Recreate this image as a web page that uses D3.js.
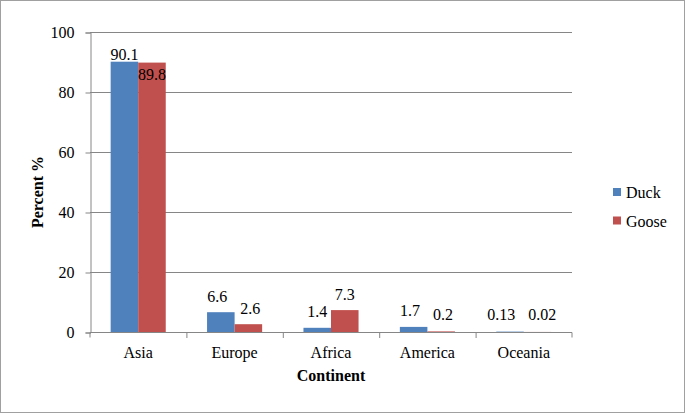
<!DOCTYPE html>
<html><head><meta charset="utf-8">
<script src="https://cdn.jsdelivr.net/npm/d3@7"></script>
<style>body{margin:0;background:#fff}svg{display:block}</style>
</head><body><svg id="c" width="685" height="413"></svg>
<script>
const categories = ["Asia","Europe","Africa","America","Oceania"];
const seriesNames = ["Duck","Goose"];
const duck = [90.1, 6.6, 1.4, 1.7, 0.13];
const goose = [89.8, 2.6, 7.3, 0.2, 0.02];
const duckLabels = ["90.1","6.6","1.4","1.7","0.13"];
const gooseLabels = ["89.8","2.6","7.3","0.2","0.02"];
const yTicks = [0,20,40,60,80,100];
const colors = ["#4F81BD","#C0504D"];
const FONT = "'Liberation Serif'";

const svg = d3.select("#c");
svg.append("rect").attr("x",0.5).attr("y",0.5).attr("width",684).attr("height",412)
  .attr("fill","#fff").attr("stroke","#A0A0A0");

const x0 = d3.scaleBand().domain(categories).range([90,572]).paddingInner(0).paddingOuter(0);
const inner = x0.bandwidth()/(2+1.5);
const x1 = d3.scaleBand().domain(seriesNames).range([inner*0.75, x0.bandwidth()-inner*0.75]).padding(0);
const y = d3.scaleLinear().domain([0,100]).range([332,32]);

// gridlines
svg.append("g").selectAll("line").data(yTicks.filter(d=>d>0)).join("line")
  .attr("x1",90).attr("x2",572).attr("y1",d=>y(d)+0.5).attr("y2",d=>y(d)+0.5)
  .attr("stroke","#868686").attr("stroke-width",1);

// y axis
const yAxis = d3.axisLeft(y).tickValues(yTicks).tickSize(5).tickPadding(11).tickFormat(d3.format("d"));
const gy = svg.append("g").attr("transform","translate(90.5,0.5)").call(yAxis);
gy.attr("font-family",null).attr("font-size",null);
gy.select(".domain").attr("stroke","#868686");
gy.selectAll(".tick line").attr("stroke","#868686");
gy.selectAll("text").style("font-size","16px").style("font-family",FONT).attr("fill","#000");

const data = categories.map((c,i)=>({c, vals:[
  {s:"Duck", v:duck[i], l:duckLabels[i]},
  {s:"Goose", v:goose[i], l:gooseLabels[i]}]}));

const g = svg.append("g").selectAll("g").data(data).join("g")
  .attr("transform",d=>`translate(${x0(d.c)},0)`);
g.selectAll("rect").data(d=>d.vals).join("rect")
  .attr("x",d=>x1(d.s)).attr("width",x1.bandwidth())
  .attr("y",d=>y(d.v)).attr("height",d=>y(0)-y(d.v))
  .attr("fill",(d,i)=>colors[i]);
g.selectAll("text").data(d=>d.vals).join("text")
  .attr("x",d=>x1(d.s)+x1.bandwidth()/2)
  .attr("y",(d,i)=> d.v>85 ? (i===1 ? y(d.v)+17.5 : y(d.v)-2) : Math.min(y(d.v)-10.5, y(0)-12))
  .attr("text-anchor","middle").style("font-size","16px").style("font-family",FONT)
  .text(d=>d.l);
// push apart overlapping labels within each group
g.each(function(){
  const t = d3.select(this).selectAll("text").nodes();
  if (t.length<2) return;
  const a = t[0].getBBox(), b = t[1].getBBox();
  const sameRow = Math.abs(a.y-b.y) < a.height*0.8;
  const gap = b.x - (a.x+a.width);
  if (sameRow && gap < 13) {
    const need = 13 - gap;
    d3.select(t[0]).attr("x", +t[0].getAttribute("x") - need*0.65);
    d3.select(t[1]).attr("x", +t[1].getAttribute("x") + need*0.35);
  }
});

// x axis
const xAxis = d3.axisBottom(x0).tickSize(0).tickPadding(14);
const gx = svg.append("g").attr("transform","translate(0,332.5)").call(xAxis);
gx.attr("font-family",null).attr("font-size",null);
gx.select(".domain").attr("stroke","#868686").attr("d","M90,5V0H572V5");
gx.selectAll(".tick line").remove();
gx.selectAll("text").style("font-size","16px").style("font-family",FONT).attr("fill","#000");
svg.append("g").selectAll("line").data(categories.slice(1)).join("line")
  .attr("x1",d=>x0(d)+0.5).attr("x2",d=>x0(d)+0.5).attr("y1",332).attr("y2",338)
  .attr("stroke","#868686");

// axis titles
svg.append("text").attr("x",331).attr("y",381).attr("text-anchor","middle")
  .style("font-size","16px").style("font-family",FONT).attr("font-weight","bold").text("Continent");
svg.append("text").attr("transform","translate(43,192) rotate(-90)").attr("text-anchor","middle")
  .style("font-size","16px").style("font-family",FONT).attr("font-weight","bold").text("Percent %");

// legend
const lg = svg.append("g").selectAll("g").data(seriesNames).join("g")
  .attr("transform",(d,i)=>`translate(613,${188+i*28.5})`);
lg.append("rect").attr("width",8).attr("height",8).attr("fill",(d,i)=>colors[i]);
lg.append("text").attr("x",13).attr("y",10).style("font-size","16px").style("font-family",FONT).text(d=>d);
</script></body></html>
